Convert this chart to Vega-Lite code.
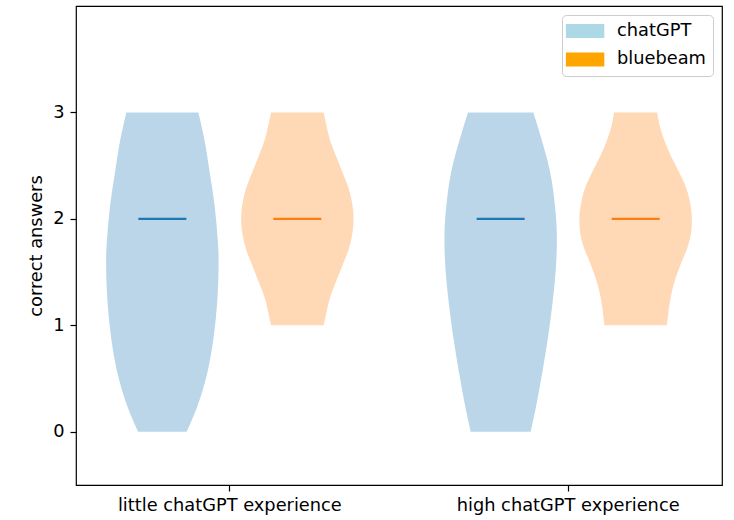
{
  "$schema": "https://vega.github.io/schema/vega-lite/v6.json",
  "width": 646,
  "height": 479,
  "autosize": {"type": "none"},
  "padding": {"left": 76, "top": 6, "right": 12, "bottom": 35},
  "background": "white",
  "datasets": {
    "violins": [
      {"experience": "little chatGPT experience", "tool": "chatGPT", "answers": 0, "density": 0.431},
      {"experience": "little chatGPT experience", "tool": "chatGPT", "answers": 0.25, "density": 0.629},
      {"experience": "little chatGPT experience", "tool": "chatGPT", "answers": 0.56, "density": 0.802},
      {"experience": "little chatGPT experience", "tool": "chatGPT", "answers": 0.88, "density": 0.91},
      {"experience": "little chatGPT experience", "tool": "chatGPT", "answers": 1.19, "density": 0.971},
      {"experience": "little chatGPT experience", "tool": "chatGPT", "answers": 1.35, "density": 0.989},
      {"experience": "little chatGPT experience", "tool": "chatGPT", "answers": 1.5, "density": 0.998},
      {"experience": "little chatGPT experience", "tool": "chatGPT", "answers": 1.6, "density": 1.0},
      {"experience": "little chatGPT experience", "tool": "chatGPT", "answers": 1.68, "density": 0.998},
      {"experience": "little chatGPT experience", "tool": "chatGPT", "answers": 1.82, "density": 0.982},
      {"experience": "little chatGPT experience", "tool": "chatGPT", "answers": 2.13, "density": 0.928},
      {"experience": "little chatGPT experience", "tool": "chatGPT", "answers": 2.45, "density": 0.838},
      {"experience": "little chatGPT experience", "tool": "chatGPT", "answers": 2.76, "density": 0.742},
      {"experience": "little chatGPT experience", "tool": "chatGPT", "answers": 3.0, "density": 0.64},

      {"experience": "little chatGPT experience", "tool": "bluebeam", "answers": 1.0, "density": 0.468},
      {"experience": "little chatGPT experience", "tool": "bluebeam", "answers": 1.12, "density": 0.516},
      {"experience": "little chatGPT experience", "tool": "bluebeam", "answers": 1.25, "density": 0.575},
      {"experience": "little chatGPT experience", "tool": "bluebeam", "answers": 1.4, "density": 0.68},
      {"experience": "little chatGPT experience", "tool": "bluebeam", "answers": 1.56, "density": 0.8},
      {"experience": "little chatGPT experience", "tool": "bluebeam", "answers": 1.72, "density": 0.915},
      {"experience": "little chatGPT experience", "tool": "bluebeam", "answers": 1.87, "density": 0.98},
      {"experience": "little chatGPT experience", "tool": "bluebeam", "answers": 2.0, "density": 1.0},
      {"experience": "little chatGPT experience", "tool": "bluebeam", "answers": 2.13, "density": 0.98},
      {"experience": "little chatGPT experience", "tool": "bluebeam", "answers": 2.28, "density": 0.915},
      {"experience": "little chatGPT experience", "tool": "bluebeam", "answers": 2.44, "density": 0.8},
      {"experience": "little chatGPT experience", "tool": "bluebeam", "answers": 2.6, "density": 0.68},
      {"experience": "little chatGPT experience", "tool": "bluebeam", "answers": 2.75, "density": 0.575},
      {"experience": "little chatGPT experience", "tool": "bluebeam", "answers": 2.88, "density": 0.516},
      {"experience": "little chatGPT experience", "tool": "bluebeam", "answers": 3.0, "density": 0.468},

      {"experience": "high chatGPT experience", "tool": "chatGPT", "answers": 0, "density": 0.533},
      {"experience": "high chatGPT experience", "tool": "chatGPT", "answers": 0.25, "density": 0.634},
      {"experience": "high chatGPT experience", "tool": "chatGPT", "answers": 0.56, "density": 0.741},
      {"experience": "high chatGPT experience", "tool": "chatGPT", "answers": 0.88, "density": 0.84},
      {"experience": "high chatGPT experience", "tool": "chatGPT", "answers": 1.19, "density": 0.918},
      {"experience": "high chatGPT experience", "tool": "chatGPT", "answers": 1.5, "density": 0.977},
      {"experience": "high chatGPT experience", "tool": "chatGPT", "answers": 1.66, "density": 0.994},
      {"experience": "high chatGPT experience", "tool": "chatGPT", "answers": 1.8, "density": 1.0},
      {"experience": "high chatGPT experience", "tool": "chatGPT", "answers": 1.98, "density": 0.989},
      {"experience": "high chatGPT experience", "tool": "chatGPT", "answers": 2.13, "density": 0.964},
      {"experience": "high chatGPT experience", "tool": "chatGPT", "answers": 2.45, "density": 0.876},
      {"experience": "high chatGPT experience", "tool": "chatGPT", "answers": 2.76, "density": 0.72},
      {"experience": "high chatGPT experience", "tool": "chatGPT", "answers": 3.0, "density": 0.581},

      {"experience": "high chatGPT experience", "tool": "bluebeam", "answers": 1.0, "density": 0.555},
      {"experience": "high chatGPT experience", "tool": "bluebeam", "answers": 1.13, "density": 0.584},
      {"experience": "high chatGPT experience", "tool": "bluebeam", "answers": 1.255, "density": 0.619},
      {"experience": "high chatGPT experience", "tool": "bluebeam", "answers": 1.41, "density": 0.69},
      {"experience": "high chatGPT experience", "tool": "bluebeam", "answers": 1.57, "density": 0.797},
      {"experience": "high chatGPT experience", "tool": "bluebeam", "answers": 1.725, "density": 0.916},
      {"experience": "high chatGPT experience", "tool": "bluebeam", "answers": 1.88, "density": 0.988},
      {"experience": "high chatGPT experience", "tool": "bluebeam", "answers": 2.0, "density": 1.0},
      {"experience": "high chatGPT experience", "tool": "bluebeam", "answers": 2.13, "density": 0.975},
      {"experience": "high chatGPT experience", "tool": "bluebeam", "answers": 2.29, "density": 0.899},
      {"experience": "high chatGPT experience", "tool": "bluebeam", "answers": 2.45, "density": 0.762},
      {"experience": "high chatGPT experience", "tool": "bluebeam", "answers": 2.6, "density": 0.619},
      {"experience": "high chatGPT experience", "tool": "bluebeam", "answers": 2.76, "density": 0.495},
      {"experience": "high chatGPT experience", "tool": "bluebeam", "answers": 2.885, "density": 0.423},
      {"experience": "high chatGPT experience", "tool": "bluebeam", "answers": 3.0, "density": 0.383}
    ],
    "medians": [
      {"experience": "little chatGPT experience", "tool": "chatGPT", "median": 2},
      {"experience": "little chatGPT experience", "tool": "bluebeam", "median": 2},
      {"experience": "high chatGPT experience", "tool": "chatGPT", "median": 2},
      {"experience": "high chatGPT experience", "tool": "bluebeam", "median": 2}
    ]
  },
  "layer": [
    {
      "data": {"name": "violins"},
      "transform": [{"filter": "datum.tool === 'chatGPT' && datum.experience === 'little chatGPT experience'"}],
      "mark": {"type": "area", "orient": "horizontal", "interpolate": "monotone", "fill": "#1f77b4", "fillOpacity": 0.3, "strokeWidth": 0},
      "encoding": {
        "y": {"field": "answers", "type": "quantitative", "scale": {"domain": [-0.5, 4], "nice": false, "zero": false}, "axis": {"values": [0, 1, 2, 3], "format": "d", "title": "correct answers"}},
        "x": {"field": "density", "type": "quantitative", "stack": "center", "scale": {"domain": [-0.26756, 5.47467], "nice": false, "zero": false}, "axis": null}
      }
    },
    {
      "data": {"name": "violins"},
      "transform": [{"filter": "datum.tool === 'bluebeam' && datum.experience === 'little chatGPT experience'"}],
      "mark": {"type": "area", "orient": "horizontal", "interpolate": "monotone", "fill": "#ff7f0e", "fillOpacity": 0.3, "strokeWidth": 0},
      "encoding": {
        "y": {"field": "answers", "type": "quantitative", "scale": {"domain": [-0.5, 4], "nice": false, "zero": false}, "axis": {"values": [0, 1, 2, 3], "format": "d", "title": "correct answers"}},
        "x": {"field": "density", "type": "quantitative", "stack": "center", "scale": {"domain": [-1.46756, 4.27467], "nice": false, "zero": false}, "axis": null}
      }
    },
    {
      "data": {"name": "violins"},
      "transform": [{"filter": "datum.tool === 'chatGPT' && datum.experience === 'high chatGPT experience'"}],
      "mark": {"type": "area", "orient": "horizontal", "interpolate": "monotone", "fill": "#1f77b4", "fillOpacity": 0.3, "strokeWidth": 0},
      "encoding": {
        "y": {"field": "answers", "type": "quantitative", "scale": {"domain": [-0.5, 4], "nice": false, "zero": false}, "axis": {"values": [0, 1, 2, 3], "format": "d", "title": "correct answers"}},
        "x": {"field": "density", "type": "quantitative", "stack": "center", "scale": {"domain": [-3.27467, 2.46756], "nice": false, "zero": false}, "axis": null}
      }
    },
    {
      "data": {"name": "violins"},
      "transform": [{"filter": "datum.tool === 'bluebeam' && datum.experience === 'high chatGPT experience'"}],
      "mark": {"type": "area", "orient": "horizontal", "interpolate": "monotone", "fill": "#ff7f0e", "fillOpacity": 0.3, "strokeWidth": 0},
      "encoding": {
        "y": {"field": "answers", "type": "quantitative", "scale": {"domain": [-0.5, 4], "nice": false, "zero": false}, "axis": {"values": [0, 1, 2, 3], "format": "d", "title": "correct answers"}},
        "x": {"field": "density", "type": "quantitative", "stack": "center", "scale": {"domain": [-4.47467, 1.26756], "nice": false, "zero": false}, "axis": null}
      }
    },
    {
      "data": {"name": "medians"},
      "encoding": {
        "x": {"field": "experience", "type": "nominal", "sort": ["little chatGPT experience", "high chatGPT experience"], "scale": {"domain": ["little chatGPT experience", "high chatGPT experience"], "paddingInner": 0.09045, "paddingOuter": 0}, "axis": {"title": null, "labelAngle": 0, "labelLimit": 0}},
        "xOffset": {"field": "tool", "type": "nominal", "scale": {"domain": ["chatGPT", "bluebeam"], "paddingInner": 0, "paddingOuter": 0.13963}},
        "y": {"field": "median", "type": "quantitative", "scale": {"domain": [-0.5, 4], "nice": false, "zero": false}, "axis": {"values": [0, 1, 2, 3], "format": "d", "title": "correct answers"}}
      },
      "layer": [
        {
          "transform": [{"filter": "datum.tool === 'chatGPT'"}],
          "mark": {"type": "tick", "size": 48, "thickness": 2.4, "color": "#1f77b4", "opacity": 1}
        },
        {
          "transform": [{"filter": "datum.tool === 'bluebeam'"}],
          "mark": {"type": "tick", "size": 48, "thickness": 2.4, "color": "#ff7f0e", "opacity": 1}
        },
        {
          "mark": {"type": "square", "opacity": 0},
          "encoding": {
            "fill": {
              "field": "tool", "type": "nominal",
              "scale": {"domain": ["chatGPT", "bluebeam"], "range": ["#add8e6", "#ffa500"]},
              "legend": {
                "title": null, "orient": "top-right", "offset": 9, "padding": 7,
                "strokeColor": "#cccccc", "fillColor": "white", "cornerRadius": 4,
                "symbolType": "M-2.743,-1H2.743V1H-2.743Z", "symbolSize": 196,
                "symbolStrokeWidth": 0, "symbolOpacity": 1, "symbolOffset": 7.2,
                "labelOffset": 23, "labelFont": "DejaVu Sans", "labelFontSize": 17.8,
                "labelColor": "#000", "rowPadding": 9.5
              }
            }
          }
        }
      ]
    }
  ],
  "resolve": {"scale": {"x": "independent"}},
  "config": {
    "view": {"stroke": "#000", "strokeWidth": 1.2},
    "axis": {
      "domain": false, "grid": false, "ticks": true, "tickColor": "#000", "tickSize": 6, "tickWidth": 1.2,
      "labelFont": "DejaVu Sans", "labelFontSize": 17.8, "labelColor": "#000",
      "titleFont": "DejaVu Sans", "titleFontSize": 17.8, "titleFontWeight": "normal", "titleColor": "#000"
    },
    "axisX": {"labelPadding": 5, "labelAngle": 0},
    "axisY": {"labelPadding": 6, "titlePadding": 7}
  }
}
